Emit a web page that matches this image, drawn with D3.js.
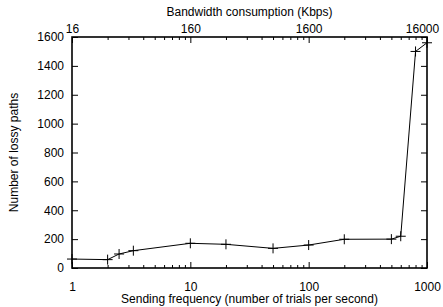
<!DOCTYPE html>
<html>
<head>
<meta charset="utf-8">
<script src="https://cdn.jsdelivr.net/npm/d3@7"></script>
<style>
  body { margin: 0; background: #fff; }
  text { font-family: "Liberation Sans", Arial, sans-serif; font-size: 12px; fill: #000; }
  .axis path { display: none; }
  .axis line { stroke: #000; stroke-width: 1; }
  .axis text { font-family: "Liberation Sans", Arial, sans-serif; font-size: 12px; fill: #000; }
</style>
</head>
<body>
<div id="chart"></div>
<script>
var width = 443,
    height = 307;
var plotLeft = 72, plotRight = 427, plotTop = 37, plotBottom = 268;

// sending frequency (trials per second) and number of lossy paths
var freq = [1, 2, 2.5, 3.3, 10, 20, 50, 100, 200, 500, 600, 800, 1000];
var lossy = [62, 58, 97, 120, 171, 164, 136, 159, 199, 200, 220, 1500, 1560];
var xTicks = [1, 10, 100, 1000];
var topTicks = [16, 160, 1600, 16000];
var yTicks = [0, 200, 400, 600, 800, 1000, 1200, 1400, 1600];

var x = d3.scaleLog().domain([1, 1000]).range([plotLeft, plotRight]);
var xTop = d3.scaleLog().domain([16, 16000]).range([plotLeft, plotRight]);
var y = d3.scaleLinear().domain([0, 1600]).range([plotBottom, plotTop]);

var minorX = [];
[1, 10, 100].forEach(function(d) {
  for (var k = 2; k < 10; k++) minorX.push(d * k);
});
var minorTop = minorX.map(function(d) { return d * 16; });

var svg = d3.select("#chart")
  .append("svg")
  .attr("width", width)
  .attr("height", height);

// bottom axis
svg.append("g")
  .attr("class", "axis")
  .attr("transform", "translate(0," + plotBottom + ")")
  .call(d3.axisBottom(x).tickValues(xTicks).tickFormat(d3.format("d"))
    .tickSizeInner(-6).tickSizeOuter(0).tickPadding(14));
svg.append("g")
  .attr("class", "axis")
  .attr("transform", "translate(0," + plotBottom + ")")
  .call(d3.axisBottom(x).tickValues(minorX).tickFormat("")
    .tickSizeInner(-3).tickSizeOuter(0));

// top axis
var topAxis = svg.append("g")
  .attr("class", "axis")
  .attr("transform", "translate(0," + plotTop + ")")
  .call(d3.axisTop(xTop).tickValues(topTicks).tickFormat(d3.format("d"))
    .tickSizeInner(-6).tickSizeOuter(0).tickPadding(4));
// keep the last label inside the window
topAxis.selectAll(".tick text")
  .filter(function(d) { return d === 16000; })
  .attr("dx", -5);
svg.append("g")
  .attr("class", "axis")
  .attr("transform", "translate(0," + plotTop + ")")
  .call(d3.axisTop(xTop).tickValues(minorTop).tickFormat("")
    .tickSizeInner(-3).tickSizeOuter(0));

// left and right axes
svg.append("g")
  .attr("class", "axis")
  .attr("transform", "translate(" + plotLeft + ",0)")
  .call(d3.axisLeft(y).tickValues(yTicks).tickFormat(d3.format("d"))
    .tickSizeInner(-6).tickSizeOuter(0).tickPadding(8));
svg.append("g")
  .attr("class", "axis")
  .attr("transform", "translate(" + plotRight + ",0)")
  .call(d3.axisRight(y).tickValues(yTicks).tickFormat("")
    .tickSizeInner(-6).tickSizeOuter(0));

// frame
svg.append("rect")
  .attr("x", plotLeft)
  .attr("y", plotTop)
  .attr("width", plotRight - plotLeft)
  .attr("height", plotBottom - plotTop)
  .attr("fill", "none")
  .attr("stroke", "#000")
  .attr("stroke-width", 1.6);

// data line
var line = d3.line()
  .x(function(d, i) { return x(freq[i]); })
  .y(function(d) { return y(d); });

svg.append("path")
  .datum(lossy)
  .attr("d", line)
  .attr("fill", "none")
  .attr("stroke", "#000")
  .attr("stroke-width", 1);

// plus markers
svg.selectAll(".mark")
  .data(lossy)
  .enter()
  .append("path")
  .attr("class", "mark")
  .attr("d", function(d, i) {
    var cx = x(freq[i]), cy = y(d), r = 5;
    return "M" + (cx - r) + "," + cy + "H" + (cx + r) + "M" + cx + "," + (cy - r) + "V" + (cy + r);
  })
  .attr("stroke", "#000")
  .attr("stroke-width", 1)
  .attr("fill", "none");

// titles
svg.append("text")
  .attr("x", (plotLeft + plotRight) / 2)
  .attr("y", 303)
  .attr("text-anchor", "middle")
  .text("Sending frequency (number of trials per second)");

svg.append("text")
  .attr("x", (plotLeft + plotRight) / 2)
  .attr("y", 16)
  .attr("text-anchor", "middle")
  .text("Bandwidth consumption (Kbps)");

svg.append("text")
  .attr("transform", "translate(18," + (plotTop + plotBottom) / 2 + ") rotate(-90)")
  .attr("text-anchor", "middle")
  .text("Number of lossy paths");
</script>
</body>
</html>
